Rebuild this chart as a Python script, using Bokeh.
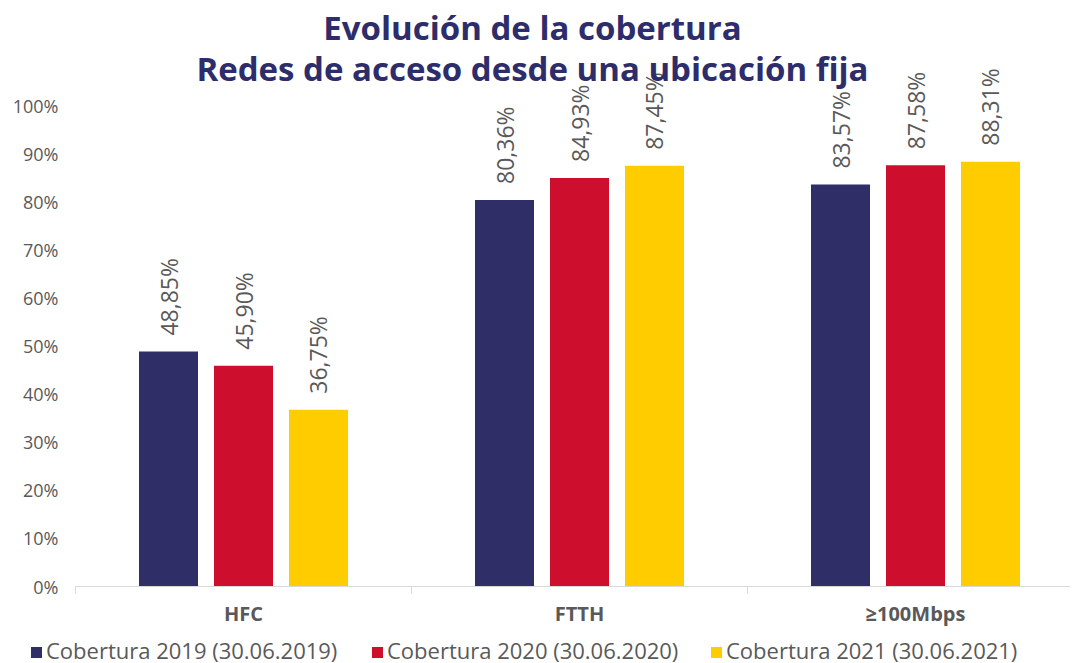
from bokeh.plotting import figure
from bokeh.models import (ColumnDataSource, Range1d, FixedTicker, Label, Div)
from bokeh.layouts import column
from bokeh.core.properties import value
from bokeh.embed import file_html
from bokeh.resources import INLINE
import math

categories = ["HFC", "FTTH", "≥100Mbps"]
series_names = ["Cobertura 2019 (30.06.2019)", "Cobertura 2020 (30.06.2020)", "Cobertura 2021 (30.06.2021)"]
cob_2019 = [48.85, 80.36, 83.57]
cob_2020 = [45.90, 84.93, 87.58]
cob_2021 = [36.75, 87.45, 88.31]
y_ticks = [0, 10, 20, 30, 40, 50, 60, 70, 80, 90, 100]
colors = ["#2F2E66", "#CE0E2D", "#FFCC00"]
title_lines = ["Evolución de la cobertura", "Redes de acceso desde una ubicación fija"]

GRAY = "#595959"
FONT = "Open Sans"
W = 1070

p = figure(width=W, height=636, output_backend="svg", toolbar_location=None,
           x_range=Range1d(0, (W - 75) / 336), y_range=Range1d(0, 586 / 4.81),
           min_border_left=75, min_border_top=0, min_border_right=0, min_border_bottom=50)
p.outline_line_color = None
p.xgrid.visible = False
p.ygrid.visible = False

offsets = [-0.2232, 0.0, 0.2232]
width = 0.1756
series = [cob_2019, cob_2020, cob_2021]
for k, (vals, col) in enumerate(zip(series, colors)):
    xs = [i + 0.5 + offsets[k] for i in range(len(categories))]
    src = ColumnDataSource(dict(x=xs, top=vals,
                                lab=[f"{v:.2f}".replace(".", ",") + "%" for v in vals]))
    p.vbar(x="x", top="top", width=width, bottom=0, source=src,
           fill_color=col, line_color=None)
    p.text(x="x", y="top", text="lab", source=src, angle=math.pi / 2,
           text_align="left", text_baseline="middle", y_offset=-16,
           text_font=value(FONT), text_font_size="23px", text_color=GRAY)

# y axis
p.yaxis.ticker = FixedTicker(ticks=y_ticks)
p.yaxis.major_label_overrides = {t: f"{t}%" for t in y_ticks}
p.yaxis.axis_line_color = None
p.yaxis.major_tick_line_color = None
p.yaxis.major_tick_out = 0
p.yaxis.major_tick_in = 0
p.yaxis.minor_tick_line_color = None
p.yaxis.minor_tick_out = 0
p.yaxis.major_label_text_font = FONT
p.yaxis.major_label_text_font_size = "18px"
p.yaxis.major_label_text_color = GRAY
p.yaxis.major_label_standoff = 17

# x axis
centers = [i + 0.5 for i in range(len(categories))]
p.xaxis.ticker = FixedTicker(ticks=centers, minor_ticks=[0, 1, 2, 3])
p.xaxis.major_label_overrides = {c: lab for c, lab in zip(centers, categories)}
p.xaxis.axis_line_color = "#D9D9D9"
p.xaxis.axis_line_width = 1
p.xaxis.major_tick_line_color = None
p.xaxis.major_tick_out = 0
p.xaxis.major_tick_in = 0
p.xaxis.minor_tick_line_color = "#D9D9D9"
p.xaxis.minor_tick_in = 0
p.xaxis.minor_tick_out = 7
p.xaxis.major_label_text_font = FONT
p.xaxis.major_label_text_font_style = "bold"
p.xaxis.major_label_text_font_size = "20px"
p.xaxis.major_label_text_color = GRAY
p.xaxis.major_label_standoff = 6

for line, yv in zip(title_lines, [27, 68]):
    p.add_layout(Label(x=(532 - 75) / 336, y=(586 - yv) / 4.81, text=line,
                       text_align="center", text_baseline="middle",
                       text_font=FONT, text_font_style="bold", text_font_size="33px",
                       text_color="#2E2D6B"))

# legend strip (HTML, built from the series names and colours)
lefts = [31, 372, 711]
spans = []
for name, col, left in zip(series_names, colors, lefts):
    spans.append(
        f'<span style="position:absolute;left:{left}px;top:2px;white-space:nowrap;'
        f'line-height:24px;">'
        f'<span style="display:inline-block;width:11px;height:11px;background:{col};'
        f'margin-right:4px;vertical-align:1px;"></span>{name}</span>')
html = (f'<div style="position:relative;width:{W}px;height:27px;font-family:\'{FONT}\';'
        f'font-size:22px;color:{GRAY};">' + "".join(spans) + '</div>')
lg = Div(text=html, width=W, height=27, margin=0)

layout = column(p, lg, spacing=0)
open("out.html", "w").write(file_html(layout, INLINE))
